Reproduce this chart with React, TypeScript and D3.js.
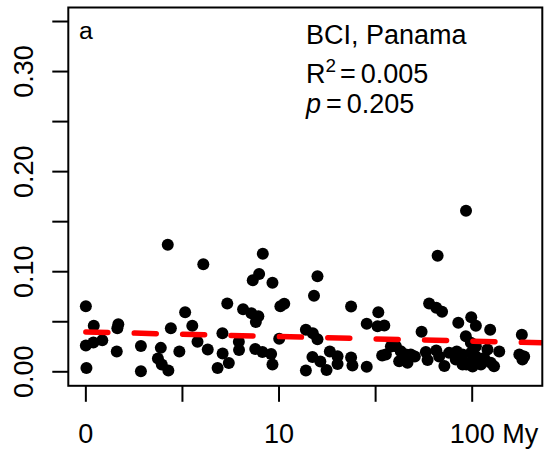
import React from 'react';
import * as d3 from 'd3';

// x: log10(1 + age in My); y: rate
const logAge = [
  0.000, 0.041, 0.000, 0.039, 0.085, 0.003, 0.168, 0.163, 0.160, 0.285, 0.285,
  0.424, 0.440, 0.388, 0.373, 0.393, 0.427, 0.484, 0.514, 0.551, 0.578, 0.631, 0.608,
  0.707, 0.708, 0.740, 0.682, 0.732, 0.814, 0.857, 0.893, 0.880, 0.792, 0.793, 0.877,
  0.914, 0.959, 0.966, 1.001, 1.007, 1.027, 0.916, 0.897, 0.864, 0.966,
  1.139, 1.175, 1.199, 1.139, 1.173, 1.214, 1.246, 1.263, 1.303, 1.303, 1.373, 1.380,
  1.454, 1.199, 1.181, 1.373, 1.454, 1.514, 1.510, 1.545, 1.534,
  1.553, 1.605, 1.630, 1.656, 1.682, 1.622, 1.665, 1.579, 1.703,
  1.738, 1.777, 1.814, 1.844, 1.760, 1.769, 1.814, 1.829, 1.856, 1.880, 1.920, 1.915,
  1.928, 1.950, 1.950, 1.967, 1.821, 1.968,
  1.995, 2.019, 2.093, 1.993, 2.019, 1.993, 2.019, 1.984, 2.027, 2.062, 2.096, 2.113,
  2.140, 2.079, 2.045, 2.002, 1.970,
  2.257, 2.244, 2.269, 2.260,
];
const rate = [
  0.0655, 0.0461, 0.0262, 0.0292, 0.0316, 0.0038, 0.0476, 0.0436, 0.0202, 0.0257, 0.0005,
  0.1270, 0.0436, 0.0239, 0.0132, 0.0073, 0.0013, 0.0202, 0.0595, 0.0461, 0.0301, 0.0222, 0.1075,
  0.0386, 0.0182, 0.0088, 0.0038, 0.0682, 0.0625, 0.0585, 0.0555, 0.0498, 0.0301, 0.0217, 0.0227,
  0.0197, 0.0177, 0.0073, 0.0331, 0.0655, 0.0680, 0.1180, 0.0978, 0.0915, 0.0889,
  0.0421, 0.0386, 0.0326, 0.0013, 0.0147, 0.0102, 0.0018, 0.0202, 0.0155, 0.0078, 0.0142, 0.0063,
  0.0050, 0.0955, 0.0759, 0.0653, 0.0479, 0.0595, 0.0456, 0.0463, 0.0162,
  0.0172, 0.0255, 0.0205, 0.0172, 0.0172, 0.0105, 0.0090, 0.0252, 0.0152,
  0.0401, 0.0682, 0.0640, 0.0600, 0.0197, 0.0117, 0.0212, 0.0152, 0.0058, 0.0189, 0.0202, 0.0122,
  0.0491, 0.0172, 0.0073, 0.0354, 0.1160, 0.1608,
  0.0545, 0.0461, 0.0421, 0.0289, 0.0255, 0.0189, 0.0155, 0.0090, 0.0090, 0.0139, 0.0090, 0.0056,
  0.0202, 0.0222, 0.0073, 0.0053, 0.0073,
  0.0371, 0.0172, 0.0152, 0.0122,
];

const xTicks = [0, 0.5, 1, 1.5, 2];
const xTickLabels = ['0', '', '10', '', '100 My'];
const yTicks = [0, 0.05, 0.1, 0.15, 0.2, 0.25, 0.3, 0.35];
const yTickLabels = ['0.00', '', '0.10', '', '0.20', '', '0.30', ''];
const xLim = [0, 2.272];
const yLim = [0, 0.35];
const fitIntercept = 0.0398;
const fitSlope = -0.0046;
const panelLabel = 'a';
const siteLabel = 'BCI, Panama';
const r2Value = '0.005';
const pValue = '0.205';

const W = 545;
const H = 449;
const FONT = "'Liberation Sans', Arial, Helvetica, sans-serif";

export default function App() {
  const box = { left: 68.3, right: 542.3, top: 7.5, bottom: 385.8 };
  const xr = xLim[1] - xLim[0];
  const yr = yLim[1] - yLim[0];
  const x = d3.scaleLinear().domain([xLim[0] - 0.04 * xr, xLim[1] + 0.04 * xr]).range([box.left, box.right]);
  const y = d3.scaleLinear().domain([yLim[0] - 0.04 * yr, yLim[1] + 0.04 * yr]).range([box.bottom, box.top]);

  const fitX = [0, x.domain()[1]];
  const line = d3.line<number>().x((d) => x(d)).y((d) => y(fitIntercept + fitSlope * d));

  const fs = 27;
  const tx = 306;

  return (
    <svg width={W} height={H} style={{ position: 'absolute', left: 0, top: 0, background: '#fff' }} fontFamily={FONT}>
      <defs>
        <clipPath id="plotclip">
          <rect x={box.left} y={box.top} width={box.right - box.left} height={box.bottom - box.top} />
        </clipPath>
      </defs>
      <rect x={0} y={0} width={W} height={H} fill="#fff" />
      {logAge.map((d, i) => (
        <circle key={i} cx={x(d)} cy={y(rate[i])} r={6} fill="#000" />
      ))}
      <path
        d={line(fitX) || ''}
        clipPath="url(#plotclip)"
        fill="none"
        stroke="#ff0000"
        strokeWidth={5.5}
        strokeDasharray="22 26.4"
        strokeLinecap="round"
      />
      <rect x={box.left} y={box.top} width={box.right - box.left} height={box.bottom - box.top} fill="none" stroke="#000" strokeWidth={2} />
      {/* y axis */}
      {yTicks.map((t, i) => (
        <g key={'y' + i}>
          <line x1={box.left - 16} x2={box.left} y1={y(t)} y2={y(t)} stroke="#000" strokeWidth={2} />
          {yTickLabels[i] && (
            <text transform={`translate(33,${y(t)}) rotate(-90)`} textAnchor="middle" fontSize={fs}>
              {yTickLabels[i]}
            </text>
          )}
        </g>
      ))}
      {/* x axis */}
      {xTicks.map((t, i) => (
        <g key={'x' + i}>
          <line x1={x(t)} x2={x(t)} y1={box.bottom} y2={box.bottom + 16} stroke="#000" strokeWidth={2} />
          {xTickLabels[i] && i < xTicks.length - 1 && (
            <text x={x(t)} y={442.5} textAnchor="middle" fontSize={fs}>
              {xTickLabels[i]}
            </text>
          )}
          {xTickLabels[i] && i === xTicks.length - 1 && (
            <text x={x(t) - 0.834 * fs} y={442.5} textAnchor="start" fontSize={fs}>
              {xTickLabels[i]}
            </text>
          )}
        </g>
      ))}
      <text x={79} y={39} fontSize={fs * 0.92}>{panelLabel}</text>
      <text x={tx} y={43.5} fontSize={fs}>{siteLabel}</text>
      <text x={tx} y={83} fontSize={fs}>
        R
        <tspan dy={-11} fontSize={fs * 0.7}>2</tspan>
        <tspan dy={11} dx={4} fontSize={fs}>=</tspan>
        <tspan dx={5}>{r2Value}</tspan>
      </text>
      <text x={tx} y={113} fontSize={fs}>
        <tspan fontStyle="italic">p</tspan>
        <tspan dx={5}>=</tspan>
        <tspan dx={5}>{pValue}</tspan>
      </text>
    </svg>
  );
}
